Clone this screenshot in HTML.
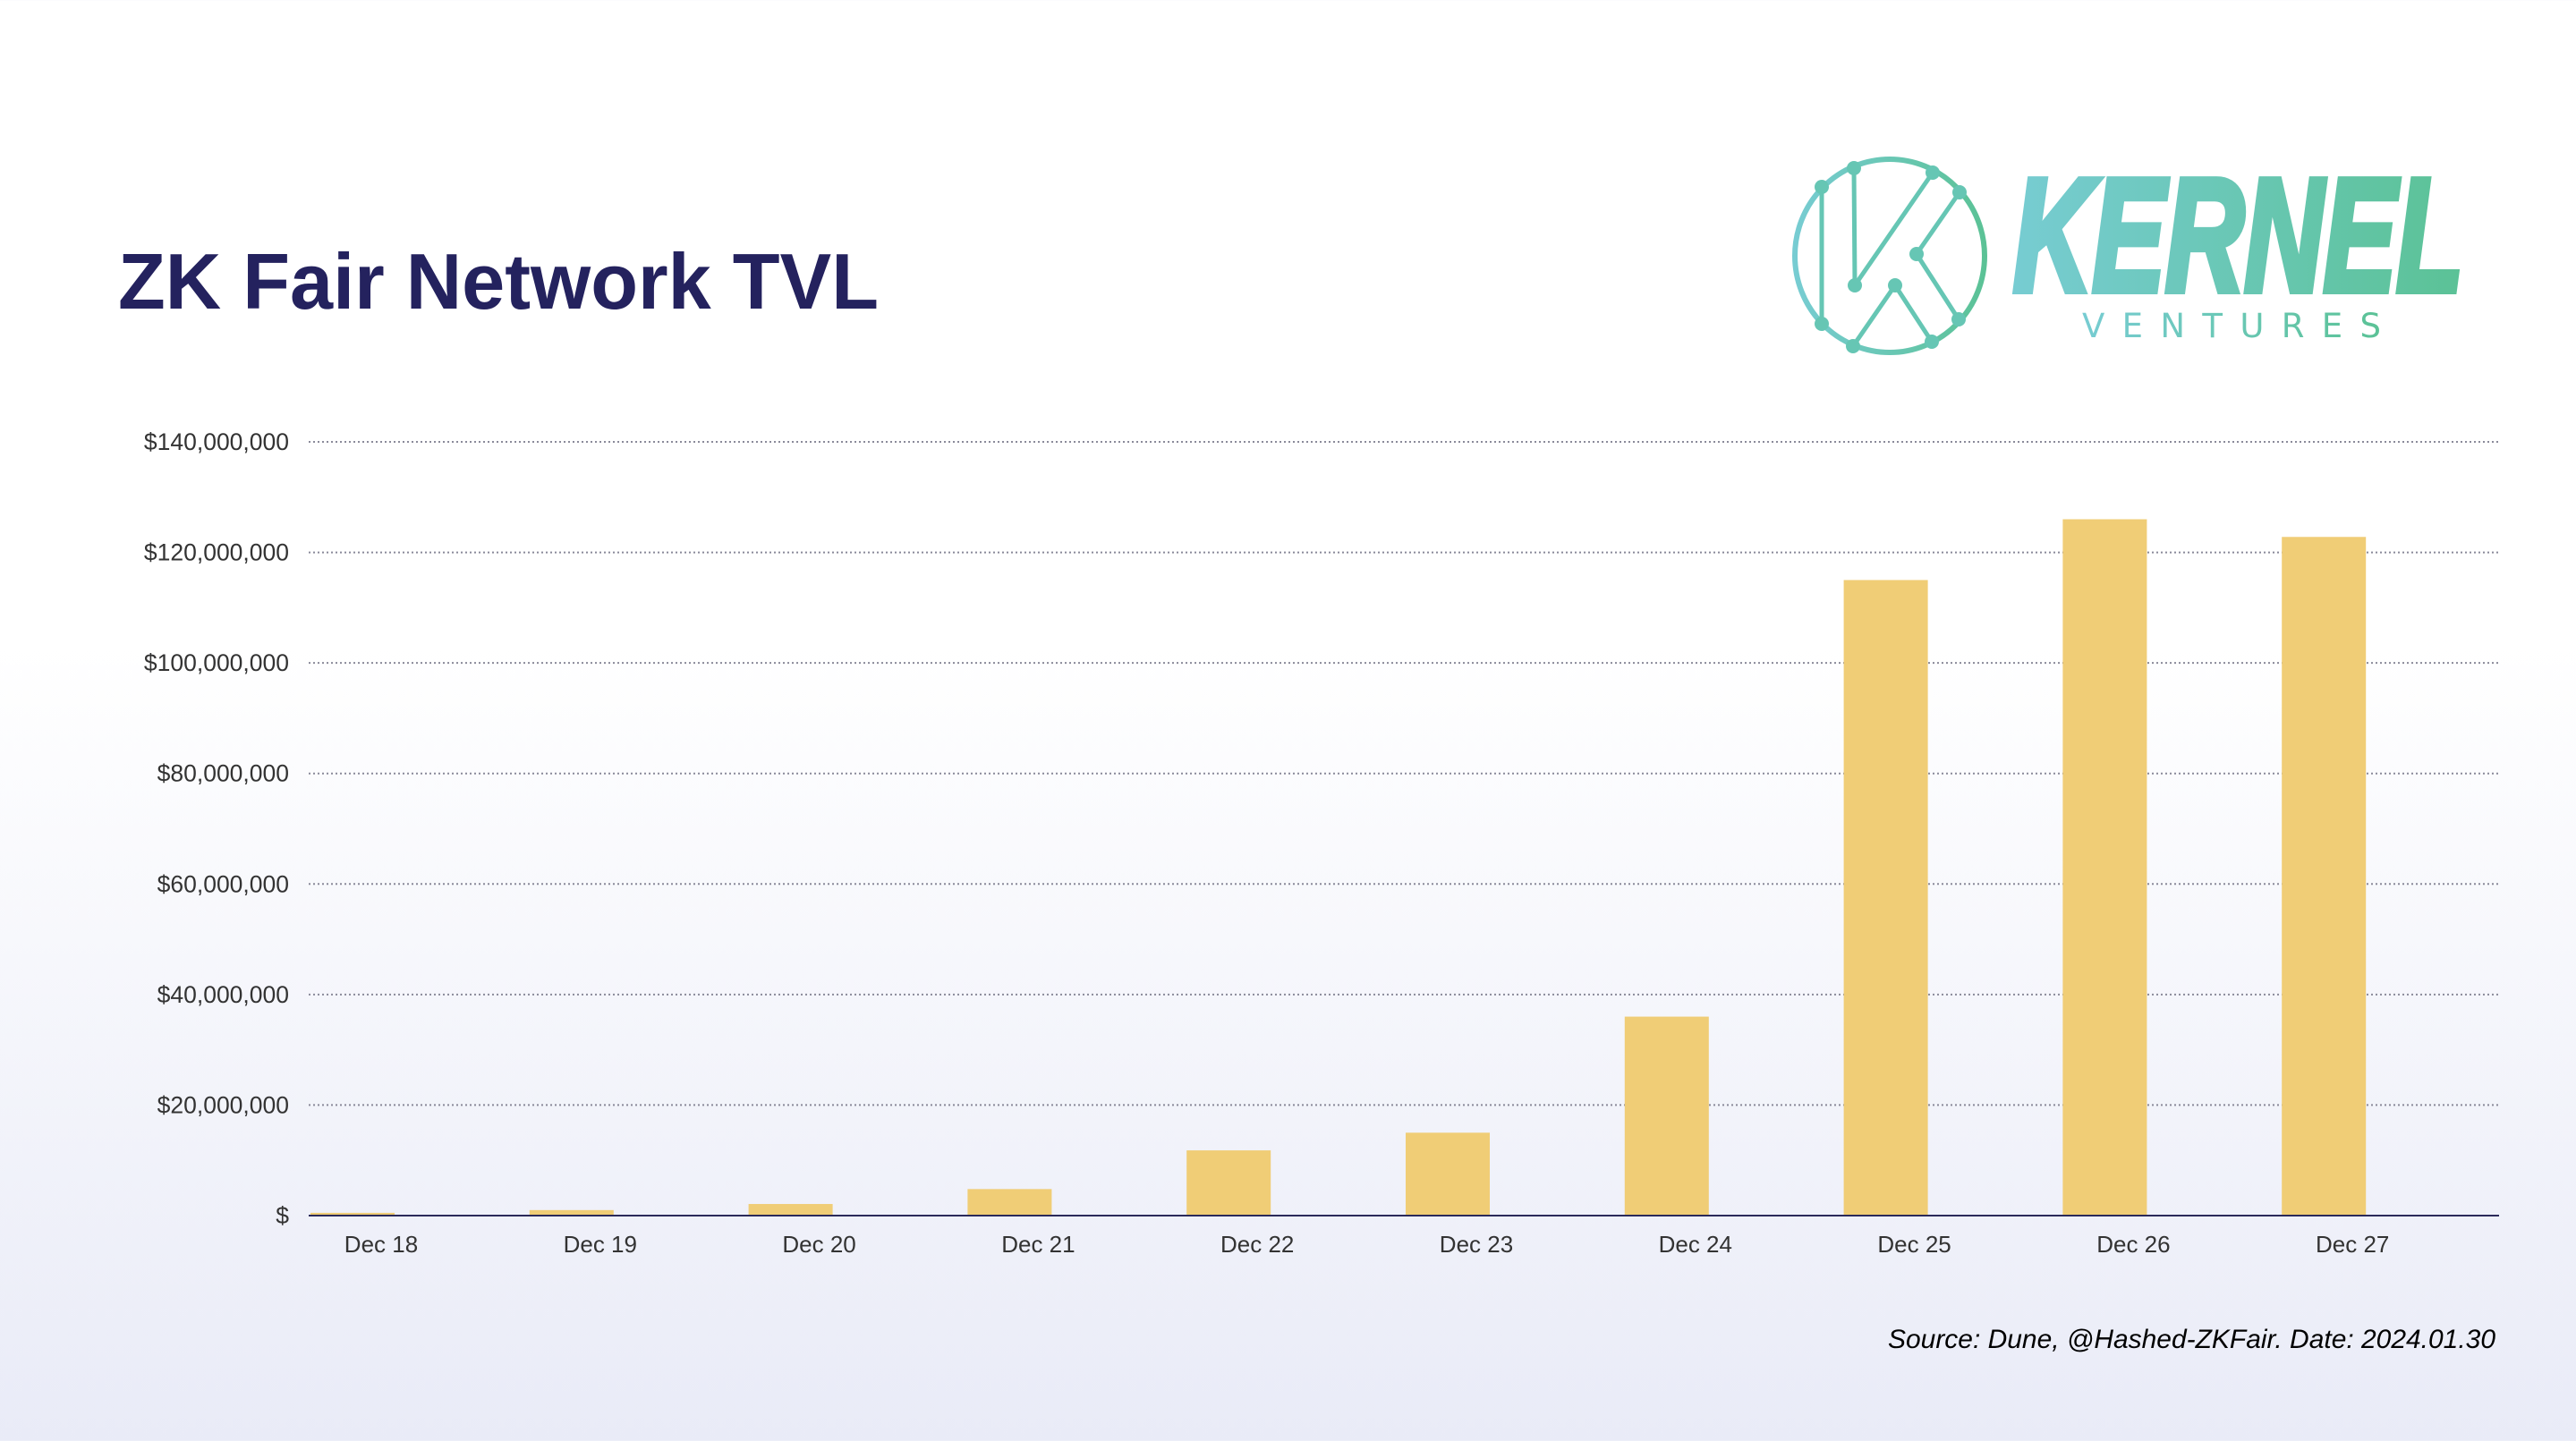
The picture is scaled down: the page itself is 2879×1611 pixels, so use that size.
<!DOCTYPE html>
<html><head><meta charset="utf-8"><style>
html,body{margin:0;padding:0;width:2879px;height:1611px;overflow:hidden;}
body{background:linear-gradient(to bottom,#ffffff 0%,#ffffff 45%,#e9ebf7 100%);font-family:"Liberation Sans",sans-serif;}
</style></head><body>
<svg id="chart" width="2879" height="1611" xmlns="http://www.w3.org/2000/svg">
<defs><linearGradient id="lg" x1="0" x2="1" y1="0" y2="0"><stop offset="0" stop-color="#77ccd2"/><stop offset="1" stop-color="#5bc296"/></linearGradient></defs>
<text x="132" y="345" font-family="Liberation Sans, sans-serif" font-weight="bold" font-size="88" fill="#24225e" textLength="850" lengthAdjust="spacingAndGlyphs">ZK Fair Network TVL</text>
<g>
<ellipse cx="2112" cy="286" rx="106" ry="108" fill="none" stroke="url(#lg)" stroke-width="6"/>
<g stroke="#66c6b4" stroke-width="5" fill="none">
<line x1="2072" y1="188" x2="2073" y2="319"/><line x1="2073" y1="319" x2="2160" y2="193"/>
<line x1="2036" y1="209" x2="2036" y2="362"/>
<polyline points="2190,215 2142,284 2189,357"/>
<polyline points="2071,387 2118,319 2159,382"/>
</g>
<g fill="#66c6b4">
<circle cx="2072" cy="188" r="8"/><circle cx="2160" cy="193" r="8"/><circle cx="2036" cy="209" r="8"/><circle cx="2190" cy="215" r="8"/><circle cx="2142" cy="284" r="8"/><circle cx="2073" cy="319" r="8"/><circle cx="2118" cy="319" r="8"/><circle cx="2036" cy="362" r="8"/><circle cx="2189" cy="357" r="8"/><circle cx="2071" cy="387" r="8"/><circle cx="2159" cy="382" r="8"/>
</g>
<text x="2250" y="325" font-family="Liberation Sans, sans-serif" font-weight="bold" font-style="italic" font-size="180" fill="url(#lg)" stroke="url(#lg)" stroke-width="8" textLength="503" lengthAdjust="spacingAndGlyphs">KERNEL</text>
<text x="2327" y="377" font-family="DejaVu Sans, sans-serif" font-size="37" fill="url(#lg)" textLength="334" lengthAdjust="spacing">VENTURES</text>
</g>
<g id="grid"></g><g id="bars"></g><g id="xlabels"></g>
<line x1="345" y1="1359" x2="2793" y2="1359" stroke="#2b2a5a" stroke-width="2"/>
<text x="2789" y="1507" text-anchor="end" font-family="Liberation Sans, sans-serif" font-style="italic" font-size="30" fill="#000" textLength="679" lengthAdjust="spacingAndGlyphs">Source: Dune, @Hashed-ZKFair. Date: 2024.01.30</text>
</svg>
<script>
const categories=["Dec 18","Dec 19","Dec 20","Dec 21","Dec 22","Dec 23","Dec 24","Dec 25","Dec 26","Dec 27"];
const tvlValues=[0.5,1.0,2.1,4.8,11.8,15.0,36.0,115.0,126.0,122.8];
const yTicks=[0,20,40,60,80,100,120,140];
const yTickLabels=["$","$20,000,000","$40,000,000","$60,000,000","$80,000,000","$100,000,000","$120,000,000","$140,000,000"];
const NS="http://www.w3.org/2000/svg";
const L=345,R=2793,B=1359,T=494;
function y(v){return B-(v/140)*(B-T);}
const band=(R-L)/categories.length;
function xb(i){return L+i*band;}
const grid=document.getElementById('grid');
yTicks.forEach((t,i)=>{
  if(t>0){const ln=document.createElementNS(NS,'line');
  
  
  ln.setAttribute('x1',L);ln.setAttribute('x2',R);ln.setAttribute('y1',y(t));ln.setAttribute('y2',y(t));
  ln.setAttribute('stroke','#8a8a9a');ln.setAttribute('stroke-width','2');ln.setAttribute('stroke-dasharray','2 3');grid.appendChild(ln);}
  const tx=document.createElementNS(NS,'text');
  
  
  tx.setAttribute('x',323);tx.setAttribute('y',y(t)+9);tx.setAttribute('text-anchor','end');
  tx.setAttribute('font-size','26.5');tx.setAttribute('fill','#333');tx.setAttribute('font-family','Liberation Sans, sans-serif');
  tx.textContent=yTickLabels[i];grid.appendChild(tx);
});
const bars=document.getElementById('bars'),xl=document.getElementById('xlabels');
categories.forEach((c,i)=>{
  const r=document.createElementNS(NS,'rect');
  
  
  r.setAttribute('x',xb(i)+2);r.setAttribute('width',94);
  r.setAttribute('y',y(tvlValues[i]));r.setAttribute('height',B-y(tvlValues[i]));
  r.setAttribute('fill','#f0cd76');bars.appendChild(r);
  const t=document.createElementNS(NS,'text');
  
  
  t.setAttribute('x',xb(i)+81);t.setAttribute('y',1400);t.setAttribute('text-anchor','middle');
  t.setAttribute('font-size','26');t.setAttribute('fill','#333');t.setAttribute('font-family','Liberation Sans, sans-serif');
  t.textContent=c;xl.appendChild(t);
});
</script>
</body></html>
